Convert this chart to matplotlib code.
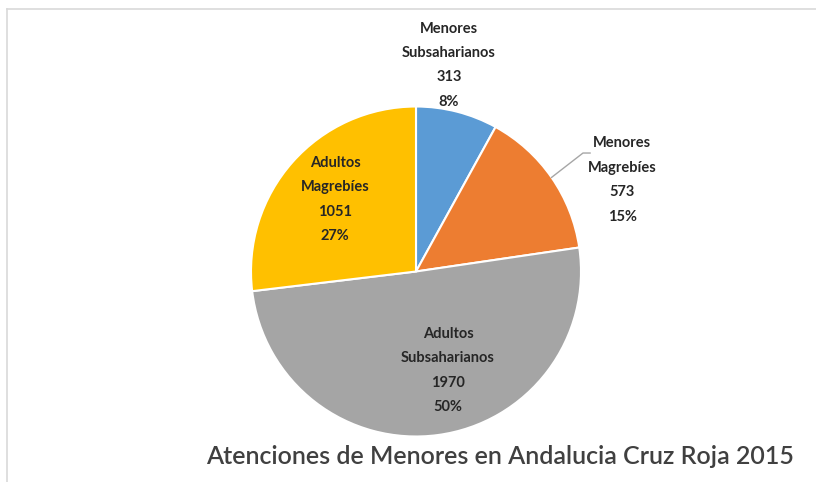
import numpy as np
import matplotlib
matplotlib.use("Agg")
import matplotlib.pyplot as plt
from matplotlib.lines import Line2D

categories = ["Menores\nSubsaharianos", "Menores\nMagrebíes", "Adultos\nSubsaharianos", "Adultos\nMagrebíes"]
values = [313, 573, 1970, 1051]
percents = ["8%", "15%", "50%", "27%"]
colors = ["#5B9BD5", "#ED7D31", "#A5A5A5", "#FFC000"]
title = "Atenciones de Menores en Andalucia Cruz Roja 2015"

plt.rcParams["font.family"] = ["Lato", "DejaVu Sans"]

fig = plt.figure(figsize=(8.16, 4.82), dpi=100)
fig.patch.set_facecolor("white")

# light frame at the top and left edge
fig.add_artist(Line2D([7 / 816, 1], [1 - 9 / 482, 1 - 9 / 482], color="#D9D9D9", lw=1.2))
fig.add_artist(Line2D([7 / 816, 7 / 816], [0, 1 - 9 / 482], color="#D9D9D9", lw=1.2))

ax = fig.add_axes([251 / 816, 45.5 / 482, 330 / 816, 330 / 482])
wedges, _ = ax.pie(values, colors=colors, startangle=90, counterclock=False,
                   wedgeprops=dict(edgecolor="white", linewidth=1.5))
ax.set_xlim(-1, 1)
ax.set_ylim(-1, 1)
ax.set_aspect("equal")
ax.axis("off")

# label positions (data coords)
label_pos = [(0.2, 1.25), (1.25, 0.555), (0.194, -0.60), (-0.49, 0.435)]
for cat, v, p, (x, y) in zip(categories, values, percents, label_pos):
    ax.text(x, y, f"{cat}\n{v}\n{p}", ha="center", va="center", fontsize=10.5,
            fontweight="bold", color="#262626", linespacing=1.95)

# leader line for Menores Magrebies
w = wedges[1]
mid = np.deg2rad((w.theta1 + w.theta2) / 2)
ex, ey = np.cos(mid), np.sin(mid)
ax.plot([ex, 1.012, 1.055], [ey, 0.718, 0.718], color="#A6A6A6", lw=1, clip_on=False)

fig.text(500 / 816, 1 - 456 / 482, title, ha="center", va="center",
         fontsize=18, fontweight="semibold", color="#404040")

fig.savefig("out.png", dpi=100)
